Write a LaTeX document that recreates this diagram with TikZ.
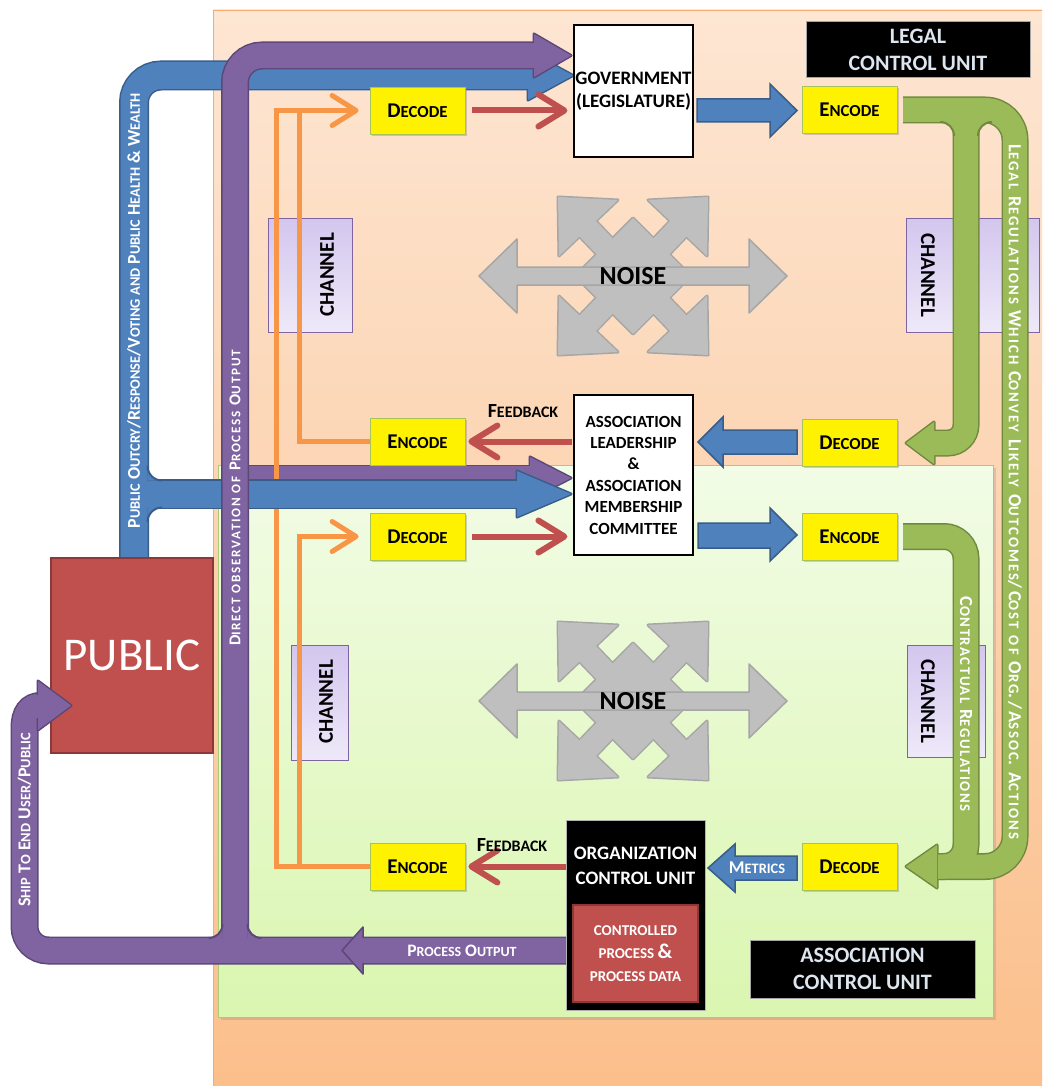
\documentclass[tikz,border=0pt]{standalone}
\usepackage{fontspec}
\setmainfont{Carlito}
\newfontfamily\trkA[LetterSpace=13]{Carlito}
\newfontfamily\trkB[LetterSpace=10]{Carlito}
\newfontfamily\trkC[LetterSpace=14]{Carlito}
\usetikzlibrary{arrows.meta,shadows,calc}
\makeatletter
\newcommand\sm[1]{{\dimen@=\f@size pt\dimen@=0.8\dimen@\fontsize{\strip@pt\dimen@}{\f@baselineskip}\selectfont#1}}
\makeatother
\definecolor{obg1}{HTML}{FDE6D3}
\definecolor{obg2}{HTML}{FBBF8B}
\definecolor{gbg1}{HTML}{F2FCE6}
\definecolor{gbg2}{HTML}{DAF6B0}
\definecolor{gbd}{HTML}{A9CB7A}
\definecolor{bluef}{HTML}{4F81BD}
\definecolor{blued}{HTML}{385D8A}
\definecolor{purf}{HTML}{8064A2}
\definecolor{purd}{HTML}{5C4776}
\definecolor{grnf}{HTML}{9BBB59}
\definecolor{grnd}{HTML}{71893F}
\definecolor{redf}{HTML}{C0504D}
\definecolor{redd}{HTML}{8C3836}
\definecolor{orl}{HTML}{F79646}
\definecolor{noisef}{HTML}{BFBFBF}
\definecolor{noised}{HTML}{A6A6A6}
\definecolor{chan1}{HTML}{D3C6EE}
\definecolor{chan2}{HTML}{EEE9F9}
\definecolor{chand}{HTML}{8064A2}
\definecolor{lbl}{HTML}{DDE5EE}
\definecolor{ybd}{HTML}{A8C25E}
\pgfdeclarelayer{back}
\pgfdeclarelayer{mid}
\pgfsetlayers{back,mid,main}
\tikzset{
 ybox/.style={draw=ybd, line width=0.8pt, fill=yellow, minimum width=95pt, minimum height=47pt, inner sep=0pt,
   font=\fontsize{21}{24}\selectfont\bfseries, drop shadow={shadow xshift=2pt, shadow yshift=-2pt, opacity=0.35}},
 wbox/.style={draw=black, line width=1.2pt, fill=white, inner sep=0pt, align=center},
 kbox/.style={draw=gray!70, line width=1pt, fill=black, inner sep=0pt, align=center, text=lbl,
   font=\fontsize{22}{26.5}\selectfont\bfseries},
 chan/.style={draw=chand, line width=0.8pt, top color=chan1, bottom color=chan2, inner sep=0pt},
 chantext/.style={font=\fontsize{21}{24}\selectfont\bfseries, text=black, inner sep=0pt},
 redarr/.style={draw=redf, line width=6pt, -{Straight Barb[length=26pt,width=32pt,round]}},
 oline/.style={draw=orl, line width=5pt},
 oarr/.style={oline, -{Straight Barb[length=24pt,width=30pt,round]}},
 vtext/.style={text=white, inner sep=0pt},
 blk/.style={fill=bluef, draw=blued, line width=1.5pt, line join=miter},
 noisetext/.style={font=\fontsize{26}{28}\selectfont\bfseries, inner sep=0pt}
}
\newcommand\noisepieces[1]{%
 \path[#1] (0,-58) -- (58,0) -- (0,58) -- (-58,0) -- cycle;
 \foreach \sx/\sy in {1/1,1/-1,-1/1,-1/-1}{%
  \path[#1] (\sx*75,\sy*79) -- (\sx*15,\sy*76) -- (\sx*74,\sy*20) -- cycle;
  \path[#1] (\sx*8,\sy*-8) -- (\sx*54,\sy*40) -- (\sx*38,\sy*56) -- (\sx*-8,\sy*8) -- cycle;
 }}
\newcommand\noiseshape[1]{%
 \begin{scope}[shift={#1}]
  \noisepieces{draw=noised,fill=noised,line width=3pt,line join=round}
  \noisepieces{fill=noisef}
  \filldraw[fill=noisef,draw=noised,line width=1.5pt,line join=round] (-154,0) -- (-116,-37) -- (-116,-9) -- (116,-9) -- (116,-37) -- (154,0) -- (116,37) -- (116,9) -- (-116,9) -- (-116,37) -- cycle;
 \end{scope}}

\begin{document}
\begin{tikzpicture}[x=1pt,y=-1pt]
\useasboundingbox (0,0) rectangle (1042,1086);

% ---------------- boxes (main layer)
\node[ybox] (dt) at (417.5,110.5) {D\sm{ECODE}};
\node[ybox] (et) at (849.5,109.5) {E\sm{NCODE}};
\node[ybox] (ef) at (417.5,441.5) {E\sm{NCODE}};
\node[ybox] (dr) at (849.5,442.5) {D\sm{ECODE}};
\node[ybox] (dm) at (417.5,536.5) {D\sm{ECODE}};
\node[ybox] (em) at (849.5,536.5) {E\sm{NCODE}};
\node[ybox] (eb) at (417.5,866.5) {E\sm{NCODE}};
\node[ybox] (db) at (849.5,866.5) {D\sm{ECODE}};
\node[wbox, minimum width=119pt, minimum height=132pt, font=\fontsize{19}{23}\selectfont\bfseries] (gov) at (633.5,91) {GOVERNMENT\\(LEGISLATURE)};
\node[wbox, minimum width=119pt, minimum height=160pt, font=\fontsize{17}{21.4}\selectfont\bfseries] (asc) at (633.5,475) {ASSOCIATION\\LEADERSHIP\\\&\\ASSOCIATION\\MEMBERSHIP\\COMMITTEE};
\node[fill=black, draw=gray!60, line width=0.8pt, minimum width=139pt, minimum height=190pt, inner sep=0pt] (org) at (635.5,915) {};
\node[text=white, inner sep=0pt, align=center, font=\fontsize{19}{25}\selectfont\bfseries] (orgt) at (635.5,866) {ORGANIZATION\\CONTROL UNIT};
\node[fill=redf, draw=redd, line width=2pt, minimum width=125pt, minimum height=97pt, inner sep=0pt, text=white, align=center, font=\fontsize{15}{23}\selectfont\bfseries] (proc) at (635.5,953.5) {CONTROLLED\\PROCESS {\fontsize{21}{23}\selectfont\&}\\PROCESS DATA};
\node[fill=redf, draw=redd, line width=1.5pt, minimum width=162pt, minimum height=195pt, inner sep=0pt, text=white, font=\fontsize{47}{50}\selectfont] (pub) at (132,655.5) {PUBLIC};

% ---------------- background layer
\begin{pgfonlayer}{back}
\fill[white] (0,0) rectangle (1042,1086);
\shade[top color=obg1,bottom color=obg2] (213,10) rectangle (1042,1086);
\draw[orl!80,line width=1pt] (213.5,1086) -- (213.5,10.5) -- (1042,10.5);
\path[draw=gbd, line width=1pt, top color=gbg1, bottom color=gbg2, drop shadow={shadow xshift=3pt, shadow yshift=-3pt, opacity=0.25}] (218,465) rectangle (993,1017);
\node[chan, minimum width=84pt, minimum height=114pt] (ch1) at (310,275) {};
\node[chan, minimum width=57pt, minimum height=115pt] (ch2) at (319.5,702.5) {};
\node[chan, minimum width=133pt, minimum height=114pt] (ch3) at (972.5,275) {};
\node[chan, minimum width=78pt, minimum height=112pt] (ch4) at (946,701) {};
\node[chantext, rotate=90] (ch1t) at (327,275) {CHANNEL};
\node[chantext, rotate=90] (ch2t) at (326,702) {CHANNEL};
\node[chantext, rotate=-90] (ch3t) at (928,275) {CHANNEL};
\node[chantext, rotate=-90] (ch4t) at (928,701) {CHANNEL};
\noiseshape{(633,276)}
\noiseshape{(633,701)}
\node[noisetext] (n1) at (633,276) {NOISE};
\node[noisetext] (n2) at (633,701) {NOISE};
\node[kbox, minimum width=224pt, minimum height=56pt] (legal) at (918,50) {LEGAL\\CONTROL UNIT};
\node[kbox, minimum width=225pt, minimum height=58pt] (acu) at (862.5,969) {ASSOCIATION\\CONTROL UNIT};
\end{pgfonlayer}

% ---------------- arrows layer
\begin{pgfonlayer}{mid}
% blue main: public -> government
\draw[blued,line width=30pt,rounded corners=27pt] (134,560) -- (134,75.5) -- (531,75.5);
\draw[blued,line width=3pt,line join=round] (528,51) -- (573,75.5) -- (528,100) -- cycle;
\draw[bluef,line width=27pt,rounded corners=27pt] (134,560) -- (134,75.5) -- (531,75.5);
\fill[bluef] (528,51) -- (573,75.5) -- (528,100) -- cycle;
% purple branch to association
\draw[purd,line width=27pt] (235,478) -- (532,478);
\draw[purd,line width=3pt,line join=round] (530,457) -- (571,478) -- (530,499) -- cycle;
\draw[purf,line width=24pt] (235,478) -- (532,478);
\fill[purf] (530,457) -- (571,478) -- (530,499) -- cycle;
% orange channel lines
\draw[oarr] (eb.west) -| ($(dt.west)+(-93,0)$) -- ($(dt.west)+(-11,0)$);
\draw[oline] (ef.west) -| ($(dt.west)+(-70,0)$);
\draw[oarr] (eb.west) -| ($(dm.west)+(-70,0)$) -- ($(dm.west)+(-11,0)$);
% blue branch to association
\draw[blued,line width=30pt] (148,494) -- (519,494);
\draw[blued,line width=3pt,line join=round] (517,471) -- (571,494) -- (517,517) -- cycle;
\draw[bluef,line width=27pt] (148,494) -- (519,494);
\fill[bluef] (517,471) -- (571,494) -- (517,517) -- cycle;
\fill[bluef] (140,481.5) rectangle (152,506.5);
\fill[bluef] (147.5,466) .. controls (147.5,474) and (154,480.5) .. (162,480.5) -- (147.5,480.5) -- cycle;
\fill[bluef] (147.5,522) .. controls (147.5,514) and (154,507.5) .. (162,507.5) -- (147.5,507.5) -- cycle;
\draw[blued,line width=2pt] (147.5,466) .. controls (147.5,474) and (154,480.5) .. (162,480.5);
\draw[blued,line width=2pt] (147.5,522) .. controls (147.5,514) and (154,507.5) .. (162,507.5);
% purple main: process output, ship to public, direct observation
\draw[purd,line width=28pt] (566,950.5) -- (48.5,950.5) .. controls (35,950.5) and (24.5,940) .. (24.5,926.5) -- (24.5,728) .. controls (24.5,714) and (30,706) .. (41,706);
\draw[purd,line width=28pt,rounded corners=27pt] (235,950.5) -- (235,55.5) -- (536,55.5);
\draw[purd,line width=3pt,line join=round] (534,34) -- (571,55.5) -- (534,77) -- cycle;
\draw[purf,line width=25pt] (566,950.5) -- (48.5,950.5) .. controls (35,950.5) and (24.5,940) .. (24.5,926.5) -- (24.5,728) .. controls (24.5,714) and (30,706) .. (41,706);
\draw[purf,line width=25pt,rounded corners=27pt] (235,950.5) -- (235,55.5) -- (536,55.5);
\fill[purf] (534,34) -- (571,55.5) -- (534,77) -- cycle;
\fill[purf] (222.5,924) .. controls (222.5,932) and (216.5,938) .. (208.5,938) -- (222.5,938) -- cycle;
\fill[purf] (247.5,924) .. controls (247.5,932) and (253.5,938) .. (261.5,938) -- (247.5,938) -- cycle;
\draw[purd,line width=2pt] (222.5,924) .. controls (222.5,932) and (216.5,938) .. (208.5,938);
\draw[purd,line width=2pt] (247.5,924) .. controls (247.5,932) and (253.5,938) .. (261.5,938);
\fill[purf] (363,927) -- (342,950.5) -- (363,974) -- cycle;
\draw[purd,line width=1.5pt,line join=round] (363,938) -- (363,927) -- (342,950.5) -- (363,974) -- (363,963);
% green regulation arrows
\draw[grnd,line width=27pt,rounded corners=30pt] (903,110) -- (1015,110) -- (1015,866.5) -- (938,866.5);
\draw[grnd,line width=27pt,rounded corners=18pt] (966,110) -- (966,443) -- (934,443);
\draw[grnd,line width=27pt,rounded corners=22pt] (903,536.5) -- (966,536.5) -- (966,866.5) -- (938,866.5);
\draw[grnd,line width=3pt,line join=round] (934,422) -- (906,443) -- (934,464) -- cycle;
\draw[grnd,line width=3pt,line join=round] (937,845) -- (906,866.5) -- (937,888) -- cycle;
\draw[grnf,line width=24pt,rounded corners=30pt] (903,110) -- (1015,110) -- (1015,866.5) -- (938,866.5);
\draw[grnf,line width=24pt,rounded corners=18pt] (966,110) -- (966,443) -- (934,443);
\draw[grnf,line width=24pt,rounded corners=22pt] (903,536.5) -- (966,536.5) -- (966,866.5) -- (938,866.5);
\fill[grnf] (934,422) -- (906,443) -- (934,464) -- cycle;
\fill[grnf] (937,845) -- (906,866.5) -- (937,888) -- cycle;
\fill[grnf] (940,122) .. controls (948,122) and (954,128) .. (954,136) -- (954,122) -- cycle;
\fill[grnf] (992,122) .. controls (984,122) and (978,128) .. (978,136) -- (978,122) -- cycle;
\draw[grnd,line width=2pt] (940,122) .. controls (948,122) and (954,128) .. (954,136);
\draw[grnd,line width=2pt] (992,122) .. controls (984,122) and (978,128) .. (978,136);
% blue block arrows
\filldraw[blk] (697,99) -- (770,99) -- (770,84) -- (797,110.5) -- (770,137) -- (770,122) -- (697,122) -- cycle;
\filldraw[blk] (797,430) -- (723,430) -- (723,417) -- (698,442) -- (723,467) -- (723,454) -- (797,454) -- cycle;
\filldraw[blk] (698,523) -- (770,523) -- (770,508) -- (797,535) -- (770,561) -- (770,548) -- (698,548) -- cycle;
\filldraw[blk] (797,856) -- (735,856) -- (735,844) -- (708,868) -- (735,892) -- (735,880) -- (797,880) -- cycle;
% red arrows
\draw[redarr] ($(dt.east)+(7,0)$) -- ($(dt.east -| gov.west)+(-6,0)$);
\draw[redarr] ($(ef.east -| asc.west)+(-1,0)$) -- ($(ef.east)+(3,0)$);
\draw[redarr] ($(dm.east)+(7,0)$) -- ($(dm.east -| asc.west)+(-6,0)$);
\draw[redarr] (eb.east -| org.west) -- ($(eb.east)+(3,0)$);
\end{pgfonlayer}

% ---------------- ship arrow head over PUBLIC
\draw[purd,line width=3pt,line join=round] (38,681) -- (71,705.5) -- (38,730) -- cycle;
\fill[purf] (38,681) -- (71,705.5) -- (38,730) -- cycle;
\fill[purf] (33,694.5) rectangle (40,717.5);

% ---------------- texts
\node[vtext, rotate=90, font=\fontsize{18}{20}\selectfont\bfseries] (tpub) at (134,311) {P\sm{UBLIC} O\sm{UTCRY}/R\sm{ESPONSE}/V\sm{OTING AND} P\sm{UBLIC} H\sm{EALTH} \& W\sm{EALTH}};
\node[vtext, rotate=90, font=\trkA\fontsize{16.5}{18}\selectfont\bfseries] (tdir) at (235,498) {D\sm{IRECT OBSERVATION OF} P\sm{ROCESS} O\sm{UTPUT}};
\node[vtext, rotate=-90, font=\trkC\fontsize{18.5}{20}\selectfont\bfseries] (tleg) at (1015,492) {L\sm{EGAL} R\sm{EGULATIONS} W\sm{HICH} C\sm{ONVEY} L\sm{IKELY} O\sm{UTCOMES}/C\sm{OST} \sm{OF} O\sm{RG}./A\sm{SSOC}. A\sm{CTIONS}};
\node[vtext, rotate=-90, font=\trkB\fontsize{18.5}{20}\selectfont\bfseries] (tcon) at (966,704) {C\sm{ONTRACTUAL} R\sm{EGULATIONS}};
\node[vtext, rotate=90, font=\fontsize{18}{20}\selectfont\bfseries] (tship) at (24.5,820) {S\sm{HIP} T\sm{O} E\sm{ND} U\sm{SER}/P\sm{UBLIC}};
\node[vtext, font=\fontsize{17.5}{20}\selectfont\bfseries] (tpo) at (462,951) {P\sm{ROCESS} O\sm{UTPUT}};
\node[vtext, font=\fontsize{18}{20}\selectfont\bfseries] (tmet) at (757,868) {M\sm{ETRICS}};
\node[inner sep=0pt, font=\fontsize{20}{22}\selectfont\bfseries] (fb1) at (523,411) {F\sm{EEDBACK}};
\node[inner sep=0pt, font=\fontsize{20}{22}\selectfont\bfseries] (fb2) at (512,845) {F\sm{EEDBACK}};
\end{tikzpicture}
\end{document}
